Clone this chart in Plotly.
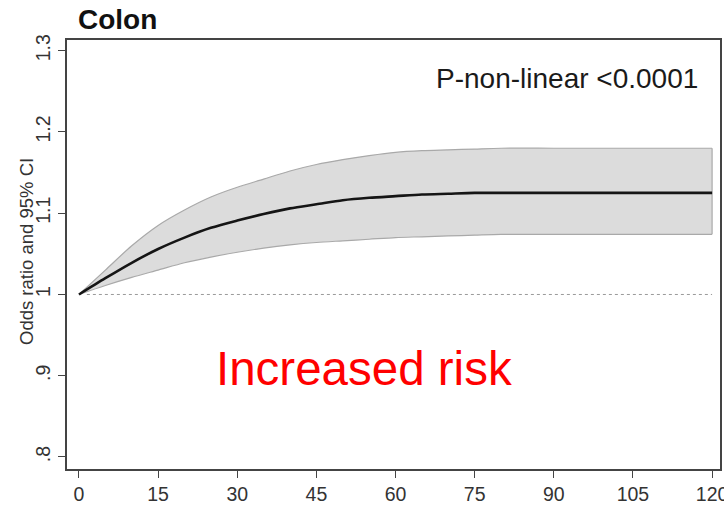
import plotly.graph_objects as go

# Data
x_vals = [0, 5, 10, 15, 20, 25, 30, 35, 40, 45, 50, 55, 60, 65, 70, 75, 80, 90, 100, 110, 120]
or_mid = [1.000, 1.020, 1.039, 1.056, 1.070, 1.082, 1.091, 1.099, 1.106, 1.111, 1.116, 1.119, 1.121,
          1.123, 1.124, 1.125, 1.125, 1.125, 1.125, 1.125, 1.125]
ci_low = [1.000, 1.011, 1.021, 1.030, 1.039, 1.046, 1.052, 1.057, 1.061, 1.064, 1.066, 1.068, 1.070,
          1.071, 1.072, 1.073, 1.074, 1.074, 1.074, 1.074, 1.074]
ci_high = [1.000, 1.030, 1.060, 1.085, 1.104, 1.120, 1.132, 1.142, 1.152, 1.160, 1.166, 1.171, 1.175,
           1.177, 1.178, 1.179, 1.180, 1.180, 1.180, 1.180, 1.180]
ref_x = [1.5, 120]
ref_y = [1.0, 1.0]

x_ticks = [0, 15, 30, 45, 60, 75, 90, 105, 120]
y_ticks = [0.8, 0.9, 1.0, 1.1, 1.2, 1.3]
y_tick_text = [".8", ".9", "1", "1.1", "1.2", "1.3"]

title_text = "Colon"
y_title = "Odds ratio and 95% CI"
p_text = "P-non-linear <0.0001"
risk_text = "Increased risk"

FONT = "Liberation Sans, Arial, sans-serif"
BAND_EDGE = "#a9a9a9"

fig = go.Figure()

# CI band: lower edge, then upper edge filled down to it
fig.add_trace(go.Scatter(
    x=x_vals, y=ci_low, mode="lines",
    line=dict(color=BAND_EDGE, width=1.2, shape="spline", smoothing=0.8),
    hoverinfo="skip", showlegend=False))
fig.add_trace(go.Scatter(
    x=x_vals, y=ci_high, mode="lines", fill="tonexty", fillcolor="#dcdcdc",
    line=dict(color=BAND_EDGE, width=1.2, shape="spline", smoothing=0.8),
    hoverinfo="skip", showlegend=False))
# closing edge of the band at the last x
fig.add_trace(go.Scatter(
    x=[x_vals[-1], x_vals[-1]], y=[ci_low[-1], ci_high[-1]], mode="lines",
    line=dict(color=BAND_EDGE, width=1.2), hoverinfo="skip", showlegend=False))

# reference line
fig.add_trace(go.Scatter(
    x=ref_x, y=ref_y, mode="lines",
    line=dict(color="#9a9a9a", width=1, dash="dot"),
    showlegend=False))

# OR curve
fig.add_trace(go.Scatter(
    x=x_vals, y=or_mid, mode="lines",
    line=dict(color="#151515", width=2.6, shape="spline", smoothing=0.8),
    showlegend=False))

axis_common = dict(
    showline=True, linecolor="#444444", linewidth=1.5, mirror=True,
    ticks="outside", ticklen=7, tickwidth=1.3, tickcolor="#444444",
    showgrid=False, zeroline=False, automargin=False,
    ticklabeloverflow="allow",
    tickfont=dict(family=FONT, size=19.5, color="#333333"),
)

fig.update_layout(
    width=724, height=505,
    margin=dict(l=67, r=4, t=40, b=36, autoexpand=False),
    paper_bgcolor="white", plot_bgcolor="white",
    title=dict(text="<b>" + title_text + "</b>", x=78 / 724, xanchor="left",
               y=1 - 19 / 505, yanchor="middle", yref="container",
               font=dict(family=FONT, size=28, color="#111111")),
    xaxis=dict(range=[-2.27, 121.5], tickvals=x_ticks, ticklabelstandoff=0, **axis_common),
    yaxis=dict(range=[0.7852, 1.3132], tickvals=y_ticks, ticktext=y_tick_text,
               tickangle=-90, **axis_common),
    annotations=[
        dict(text=y_title, xref="paper", yref="paper", x=(26 - 67) / 653, y=(469 - 252) / 429,
             textangle=-90, showarrow=False, xanchor="center", yanchor="middle",
             font=dict(family=FONT, size=18.5, color="#333333")),
        dict(text=p_text, xref="paper", yref="paper", x=(700 - 67) / 653, y=(469 - 78) / 429,
             showarrow=False, xanchor="right", yanchor="middle",
             font=dict(family=FONT, size=28, color="#1a1a1a")),
        dict(text=risk_text, xref="paper", yref="paper", x=(214 - 67) / 653, y=(469 - 368) / 429,
             showarrow=False, xanchor="left", yanchor="middle",
             font=dict(family=FONT, size=47.5, color="#ff0000")),
    ],
)

fig.write_html("out.html",
               config={"displayModeBar": False},
               post_script="document.body.style.margin='0';document.body.style.overflow='hidden';")
